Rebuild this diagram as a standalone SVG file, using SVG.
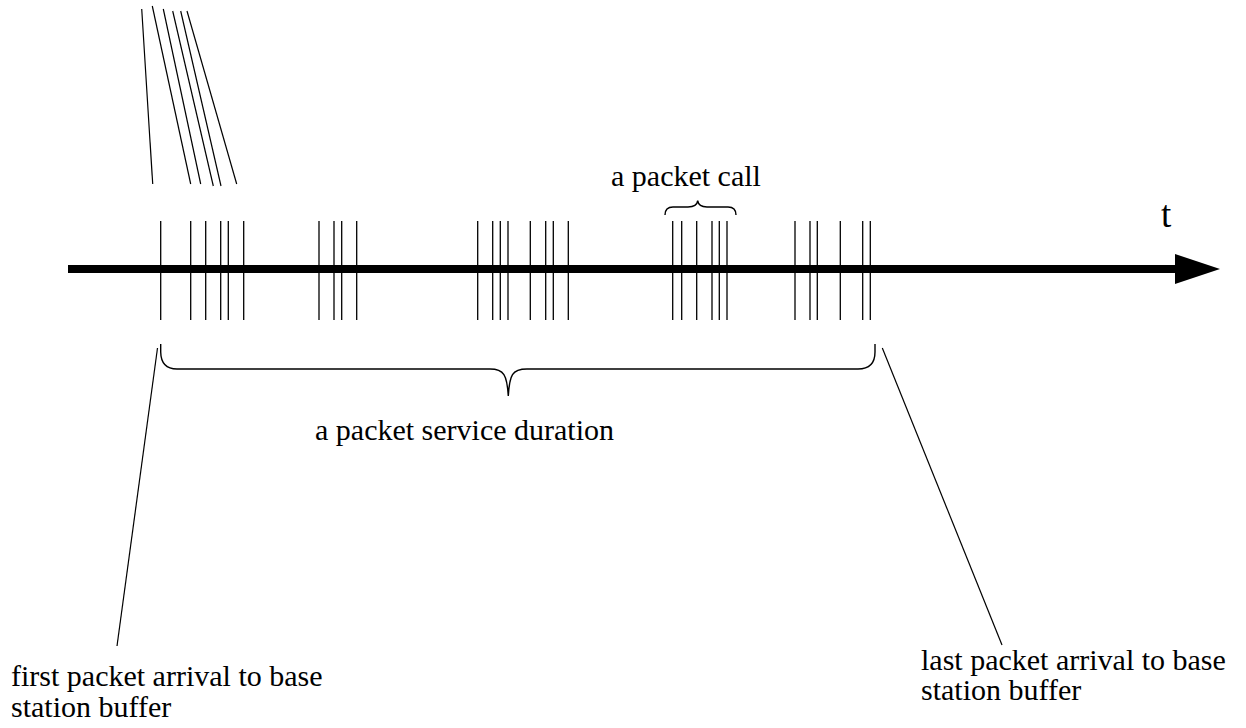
<svg xmlns="http://www.w3.org/2000/svg" width="1246" height="728" viewBox="0 0 1246 728">
<style>
.lbl{font-family:"Liberation Serif","Times New Roman",serif;font-size:30px;fill:#000}
.tick{stroke:#000;stroke-width:1.3}
.thin{stroke:#000;stroke-width:1.2;fill:none}
.brace{stroke:#000;stroke-width:1.4;fill:none}
</style>
<rect width="1246" height="728" fill="#fff"/>
<g id="axis">
<line x1="68" y1="269" x2="1178" y2="269" stroke="#000" stroke-width="8"/>
<polygon points="1175,254 1220,269 1175,284" fill="#000"/>
<text class="lbl" x="1161" y="227" style="font-size:37px">t</text>
</g>
<g id="packets">
<g class="tick">
<line x1="160.7" y1="221" x2="160.7" y2="320"/>
<line x1="190.7" y1="221" x2="190.7" y2="320"/>
<line x1="205.7" y1="221" x2="205.7" y2="320"/>
<line x1="220.7" y1="221" x2="220.7" y2="320"/>
<line x1="228.3" y1="221" x2="228.3" y2="320"/>
<line x1="243.7" y1="221" x2="243.7" y2="320"/>
<line x1="319" y1="221" x2="319" y2="320"/>
<line x1="334" y1="221" x2="334" y2="320"/>
<line x1="341.7" y1="221" x2="341.7" y2="320"/>
<line x1="356.7" y1="221" x2="356.7" y2="320"/>
<line x1="477.7" y1="221" x2="477.7" y2="320"/>
<line x1="492.7" y1="221" x2="492.7" y2="320"/>
<line x1="500.3" y1="221" x2="500.3" y2="320"/>
<line x1="508" y1="221" x2="508" y2="320"/>
<line x1="530.3" y1="221" x2="530.3" y2="320"/>
<line x1="545.7" y1="221" x2="545.7" y2="320"/>
<line x1="553.3" y1="221" x2="553.3" y2="320"/>
<line x1="568.3" y1="221" x2="568.3" y2="320"/>
<line x1="672.7" y1="221" x2="672.7" y2="320"/>
<line x1="681.7" y1="221" x2="681.7" y2="320"/>
<line x1="696.7" y1="221" x2="696.7" y2="320"/>
<line x1="712" y1="221" x2="712" y2="320"/>
<line x1="719.3" y1="221" x2="719.3" y2="320"/>
<line x1="727" y1="221" x2="727" y2="320"/>
<line x1="795" y1="221" x2="795" y2="320"/>
<line x1="810" y1="221" x2="810" y2="320"/>
<line x1="817.3" y1="221" x2="817.3" y2="320"/>
<line x1="840.3" y1="221" x2="840.3" y2="320"/>
<line x1="862.7" y1="221" x2="862.7" y2="320"/>
<line x1="870.3" y1="221" x2="870.3" y2="320"/>
</g>
</g>
<g id="packet-call">
<path class="brace" d="M665,215 Q665,207 673,207 L688,207 Q697,207 697.7,200.7 Q698.5,207 707,207 L728,207 Q736,207 736,215"/>
<text class="lbl" x="611" y="186">a packet call</text>
</g>
<g id="service-duration">
<path class="brace" d="M160.7,344 L160.7,352 Q161,369 177,369 L490,369 C504,369 507,375 508.3,396 C509.6,375 512,369 527,369 L858,369 Q875,369 875,352 L875,344"/>
<text class="lbl" x="315" y="440">a packet service duration</text>
</g>
<g id="first-arrival">
<text class="lbl" x="11" y="686">first packet arrival to base</text>
<text class="lbl" x="11" y="717">station buffer</text>
</g>
<g id="last-arrival">
<text class="lbl" x="921" y="670">last packet arrival to base</text>
<text class="lbl" x="921" y="700">station buffer</text>
</g>
<g id="connectors" class="thin">
<line x1="141.7" y1="9" x2="152.7" y2="184"/>
<line x1="152.3" y1="6" x2="190.7" y2="184"/>
<line x1="163.3" y1="9" x2="200.7" y2="184"/>
<line x1="172.7" y1="11" x2="213.3" y2="186"/>
<line x1="180.7" y1="11" x2="221" y2="186"/>
<line x1="187" y1="11" x2="236.7" y2="184"/>
<line x1="157.5" y1="348" x2="117" y2="646"/>
<line x1="882.3" y1="348" x2="1002" y2="645"/>
</g>
</svg>
